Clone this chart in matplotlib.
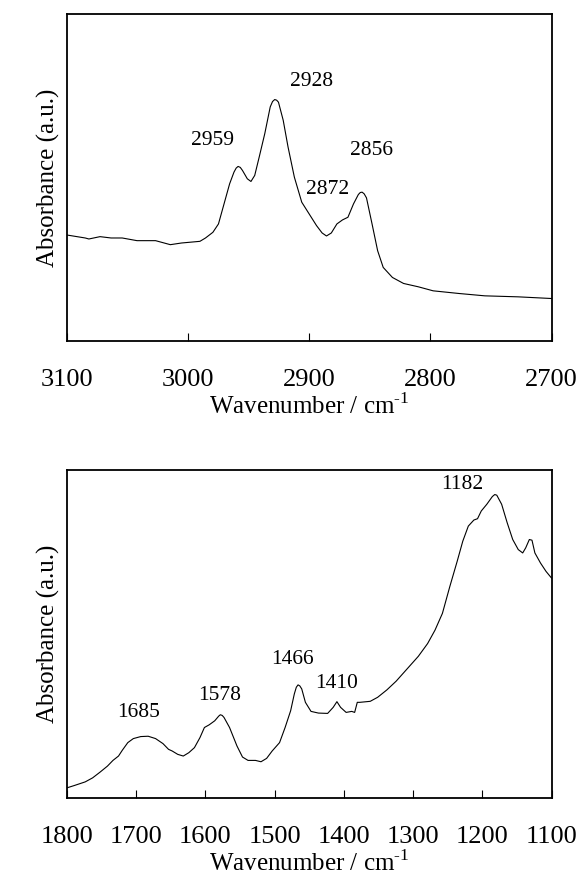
import numpy as np
import matplotlib
matplotlib.use("Agg")
import matplotlib.pyplot as plt

plt.rcParams['font.family'] = ['Liberation Serif', 'DejaVu Serif']
plt.rcParams['mathtext.fontset'] = 'custom'
plt.rcParams['mathtext.rm'] = 'Liberation Serif'

# C-H stretching region
ch_wavenumber = [3100, 3084.7, 3081.7, 3072.5, 3063.4, 3054.2, 3042.0, 3026.7, 3014.5, 3005.3,
                 2990.1, 2985.5, 2979.4, 2974.8, 2970.2, 2965.6, 2962.0, 2960.2, 2958.6, 2956.8,
                 2955.0, 2951.0, 2948.0, 2944.9, 2941.2, 2936.6, 2932.1, 2930.2, 2928.4, 2926.8,
                 2925.3, 2921.4, 2917.4, 2912.2, 2906.1, 2900.0, 2893.9, 2889.3, 2885.7, 2881.7,
                 2877.1, 2872.5, 2868.0, 2863.4, 2859.4, 2857.8, 2856.3, 2854.6, 2852.7, 2848.1,
                 2843.5, 2838.9, 2831.3, 2822.1, 2809.9, 2797.7, 2776.3, 2755.0, 2727.5, 2700]
ch_absorbance = [317, 308, 305, 312, 308, 308, 300, 300, 288, 293,
                 298, 308, 325, 350, 410, 470, 505, 517, 522, 519,
                 510, 485, 477, 495, 550, 620, 700, 716, 722, 720,
                 714, 660, 580, 490, 415, 380, 345, 323, 314, 323,
                 350, 362, 370, 410, 438, 444, 445, 440, 428, 350,
                 270, 220, 190, 172, 162, 150, 142, 135, 132, 127]
ch_peaks = ['2959', '2928', '2872', '2856']
ch_peak_x = [2979.4, 2897.6, 2884.7, 2848.7]
ch_peak_y = [600, 777, 452, 570]

# fingerprint region
fp_wavenumber = [1800, 1789.3, 1773.3, 1762.6, 1751.9, 1741.2, 1733.2, 1725.2, 1719.8, 1711.8,
                 1703.8, 1693.1, 1682.4, 1671.7, 1661.0, 1653.0, 1647.7, 1639.7, 1631.7, 1623.7,
                 1615.6, 1607.6, 1601.2, 1594.3, 1586.3, 1580.5, 1578.2, 1575.5, 1572.9, 1564.9,
                 1554.2, 1546.2, 1538.2, 1527.5, 1519.5, 1511.4, 1503.4, 1492.7, 1484.7, 1476.7,
                 1471.4, 1468.5, 1466.0, 1463.5, 1460.7, 1455.4, 1447.3, 1436.6, 1423.3, 1415.3,
                 1409.9, 1404.6, 1396.6, 1388.5, 1384.3, 1380.5, 1376.8, 1361.8, 1351.1, 1337.8,
                 1324.4, 1308.4, 1292.4, 1279.0, 1268.3, 1257.6, 1246.9, 1236.3, 1228.2, 1220.2,
                 1212.2, 1206.9, 1201.5, 1193.5, 1185.5, 1182.0, 1179.1, 1172.1, 1164.1, 1156.1,
                 1148.1, 1141.7, 1137.4, 1132.1, 1128.3, 1124.1, 1116.0, 1108.0, 1100]
fp_absorbance = [30, 37, 48, 60, 77, 95, 112, 125, 142, 165,
                 177, 183, 184, 177, 162, 145, 140, 130, 125, 135,
                 150, 180, 210, 218, 230, 244, 248, 246, 240, 210,
                 155, 122, 112, 112, 108, 118, 140, 165, 210, 260,
                 310, 330, 337, 334, 325, 285, 258, 253, 252, 270,
                 287, 270, 255, 258, 255, 285, 285, 288, 300, 322,
                 348, 385, 422, 460, 500, 550, 630, 705, 765, 810,
                 828, 832, 855, 875, 898, 904, 902, 875, 820, 770,
                 740, 730, 745, 770, 768, 730, 700, 675, 655]
fp_peaks = ['1685', '1578', '1466', '1410', '1182']
fp_peak_x = [1695.8, 1579.8, 1474.0, 1411.0, 1229.3]
fp_peak_y = [255, 305, 413, 342, 935]


def draw_panel(ax, x, y, xlim, ticks, labels, lx, ly):
    ax.plot(x, y, color='black', linewidth=0.8)
    ax.set_xlim(*xlim)
    ax.set_ylim(0, 977)
    ax.set_xticks(ticks)
    ax.set_yticks([])
    ax.tick_params(axis='x', direction='in', length=6, width=0.8,
                   labelsize=19, pad=20)
    for s in ax.spines.values():
        s.set_linewidth(1.3)
    ax.set_xlabel(r'Wavenumber / cm$^{\text{-1}}$', fontsize=18, labelpad=2)
    ax.set_ylabel('Absorbance (a.u.)', fontsize=18, labelpad=5)
    for t, px, py in zip(labels, lx, ly):
        ax.text(px, py, t, fontsize=15.5, ha='center', va='center')


fig = plt.figure(figsize=(5.8, 8.85), dpi=100)
ax1 = fig.add_axes([0.115, 0.6147, 0.836, 0.3692])
ax2 = fig.add_axes([0.115, 0.0983, 0.836, 0.3706])

draw_panel(ax1, ch_wavenumber, ch_absorbance, (3100, 2700),
           [3100, 3000, 2900, 2800, 2700], ch_peaks, ch_peak_x, ch_peak_y)
draw_panel(ax2, fp_wavenumber, fp_absorbance, (1800, 1100),
           [1800, 1700, 1600, 1500, 1400, 1300, 1200, 1100], fp_peaks, fp_peak_x, fp_peak_y)

fig.savefig('out.png', dpi=100)
